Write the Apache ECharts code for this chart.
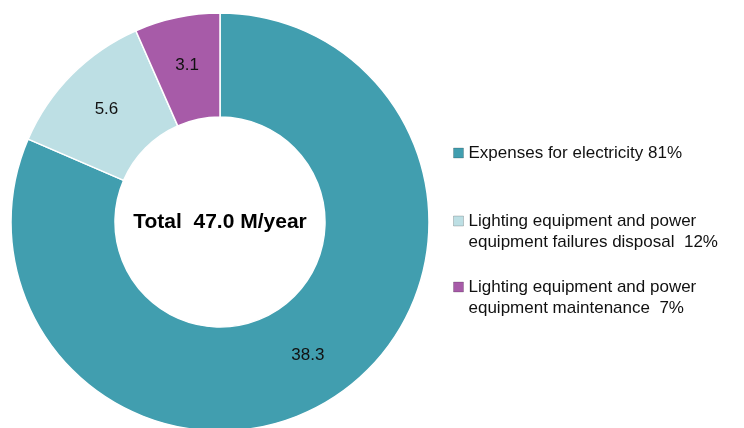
<!DOCTYPE html>
<html>
<head>
<meta charset="utf-8">
<script src="https://cdn.jsdelivr.net/npm/echarts@6/dist/echarts.min.js"></script>
<style>
  html, body { margin: 0; padding: 0; background: #fff; }
  #chart { width: 744px; height: 428px; }
</style>
</head>
<body>
<div id="chart"></div>
<script>
// Annual cost breakdown (M/year)
const categories = [
  'Expenses for electricity 81%',
  'Lighting equipment and power\nequipment failures disposal  12%',
  'Lighting equipment and power\nequipment maintenance  7%'
];
const values = [38.3, 5.6, 3.1];
const colors = ['#419eaf', '#bddfe4', '#a75ba8'];
const totalText = 'Total  47.0 M/year';

const FONT = '"Liberation Sans", Arial, sans-serif';
const LINE_H = 21;

const cx = 220, cy = 222;

// One legend block per category. Legend text is centred on its icon, so
// multi-line names get blank lines on top to keep the icon beside line one.
const iconCenters = [153, 221, 287];
const legends = categories.map((name, i) => {
  const lines = name.split('\n').length;
  const pad = lines - 1;
  const blockH = LINE_H * (lines + pad);
  return {
    orient: 'vertical',
    left: 453,
    top: iconCenters[i] - blockH / 2,
    padding: 0,
    itemWidth: 10,
    itemHeight: 10,
    itemGap: 0,
    selectedMode: false,
    icon: 'rect',
    data: [{
      name: name,
      itemStyle: { color: colors[i], borderColor: 'rgba(0,0,0,0.18)', borderWidth: 1 }
    }],
    formatter: n => ' \n'.repeat(pad) + n,
    textStyle: {
      fontFamily: FONT,
      fontSize: 17,
      color: '#111',
      lineHeight: LINE_H
    }
  };
});

const chart = echarts.init(document.getElementById('chart'), null, { renderer: 'canvas' });
chart.setOption({
  animation: false,
  backgroundColor: '#fff',
  color: colors,
  legend: legends,
  graphic: [{
    type: 'text',
    x: cx,
    y: cy,
    style: {
      text: totalText,
      fontFamily: FONT,
      fontSize: 21,
      fontWeight: 'bold',
      fill: '#000',
      align: 'center',
      verticalAlign: 'middle'
    }
  }],
  series: [{
    type: 'pie',
    center: [cx, cy],
    radius: [105, 209],
    startAngle: 90,
    clockwise: true,
    avoidLabelOverlap: false,
    itemStyle: { borderColor: '#fff', borderWidth: 1.5 },
    label: {
      show: true,
      position: 'inside',
      formatter: p => p.value.toFixed(1),
      fontFamily: FONT,
      fontSize: 17,
      color: '#111'
    },
    labelLine: { show: false },
    emphasis: { disabled: true },
    data: categories.map((name, i) => ({ name: name, value: values[i] }))
  }]
});
</script>
</body>
</html>
